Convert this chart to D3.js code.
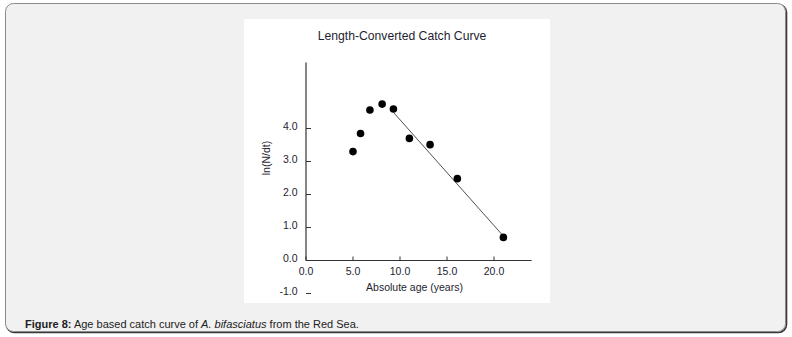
<!DOCTYPE html>
<html>
<head>
<meta charset="utf-8">
<script src="https://cdn.jsdelivr.net/npm/d3@7"></script>
<style>
  html, body { margin: 0; padding: 0; background: #ffffff; }
  svg { display: block; }
</style>
</head>
<body>
<script>
// Catch curve observations: absolute age (years) vs ln(N/dt)
const ages = [5.0, 5.8, 6.8, 8.1, 9.3, 11.0, 13.2, 16.1, 21.0];
const lnN  = [3.30, 3.85, 4.56, 4.74, 4.59, 3.70, 3.51, 2.48, 0.70];

// Fitted descending limb (points from the peak onward)
const fitAges = [9.33, 21.0];
const fitIntercept = 7.47;
const fitSlope = -0.3205;

const xTicks = [0, 5, 10, 15, 20];
const yTicks = [-1, 0, 1, 2, 3, 4];

const title = "Length-Converted Catch Curve";
const xTitle = "Absolute age (years)";
const yTitle = "ln(N/dt)";

const W = 792, H = 337;
const svg = d3.select("body").append("svg").attr("width", W).attr("height", H);

// page panel with rounded border
svg.append("rect")
  .attr("x", 6.5).attr("y", 4.5).attr("width", 780).attr("height", 328)
  .attr("rx", 8).attr("fill", "#f1f1f1").attr("stroke", "#3a3a3a").attr("stroke-width", 1.6);
svg.append("rect")
  .attr("x", 5.5).attr("y", 3.5).attr("width", 780).attr("height", 328)
  .attr("rx", 8).attr("fill", "#f1f1f1").attr("stroke", "#8a8a8a").attr("stroke-width", 1);

// white figure area
svg.append("rect").attr("x", 244).attr("y", 19).attr("width", 306).attr("height", 284).attr("fill", "#ffffff");

const x = d3.scaleLinear().domain([0, 24]).range([306, 531.6]);
const y = d3.scaleLinear().domain([-1, 6]).range([293.5, 62.5]);

const font = "Liberation Sans, Arial, sans-serif";
const axisColor = "#333";
const textColor = "#1e1e30";
// one decimal, plain hyphen for negatives
const fmt = d3.formatLocale({ decimal: ".", thousands: ",", grouping: [3], currency: ["", ""], minus: "-" }).format(".1f");

svg.append("text")
  .attr("x", 402).attr("y", 40).attr("text-anchor", "middle")
  .attr("font-family", font).attr("font-size", 12.2).attr("fill", textColor)
  .text(title);

// axis lines
svg.append("line").attr("x1", x(0)).attr("x2", x(0)).attr("y1", y(0)).attr("y2", y(6))
  .attr("stroke", axisColor).attr("stroke-width", 1.2);
svg.append("line").attr("x1", x(0)).attr("x2", x(24)).attr("y1", y(0)).attr("y2", y(0))
  .attr("stroke", axisColor).attr("stroke-width", 1.2);

// y ticks (inward) and labels
const yg = svg.append("g");
yg.selectAll("line").data(yTicks).join("line")
  .attr("x1", x(0)).attr("x2", x(0) + 5)
  .attr("y1", d => y(d)).attr("y2", d => y(d))
  .attr("stroke", axisColor).attr("stroke-width", 1);
yg.selectAll("text").data(yTicks).join("text")
  .attr("x", 297.5).attr("y", d => y(d) + 1.2)
  .attr("text-anchor", "end")
  .attr("font-family", font).attr("font-size", 10.5).attr("fill", textColor)
  .text(d => fmt(d));

// x ticks (inward) and labels
const xg = svg.append("g");
xg.selectAll("line").data(xTicks).join("line")
  .attr("x1", d => x(d)).attr("x2", d => x(d))
  .attr("y1", y(0)).attr("y2", y(0) - 4)
  .attr("stroke", axisColor).attr("stroke-width", 1);
xg.selectAll("text").data(xTicks).join("text")
  .attr("x", d => x(d)).attr("y", 274.8)
  .attr("text-anchor", "middle")
  .attr("font-family", font).attr("font-size", 10.5).attr("fill", textColor)
  .text(d => fmt(d));

svg.append("text")
  .attr("x", 414.5).attr("y", 291).attr("text-anchor", "middle")
  .attr("font-family", font).attr("font-size", 10.5).attr("fill", textColor)
  .text(xTitle);

svg.append("text")
  .attr("transform", "translate(269.5,158) rotate(-90)")
  .attr("text-anchor", "middle")
  .attr("font-family", font).attr("font-size", 10.5).attr("fill", textColor)
  .text(yTitle);

// regression line
svg.append("path")
  .datum(fitAges.map(a => [a, fitIntercept + fitSlope * a]))
  .attr("d", d3.line().x(d => x(d[0])).y(d => y(d[1])))
  .attr("fill", "none").attr("stroke", "#222").attr("stroke-width", 0.8);

// observations
svg.append("g").selectAll("circle").data(ages.map((a, i) => [a, lnN[i]])).join("circle")
  .attr("cx", d => x(d[0])).attr("cy", d => y(d[1])).attr("r", 3.8)
  .attr("fill", "#000");

// caption
const cap = svg.append("text")
  .attr("x", 25).attr("y", 328)
  .attr("font-family", font).attr("font-size", 11).attr("fill", "#222");
cap.append("tspan").attr("font-weight", "bold").text("Figure 8:");
cap.append("tspan").text(" Age based catch curve of ");
cap.append("tspan").attr("font-style", "italic").text("A. bifasciatus");
cap.append("tspan").text(" from the Red Sea.");
</script>
</body>
</html>
